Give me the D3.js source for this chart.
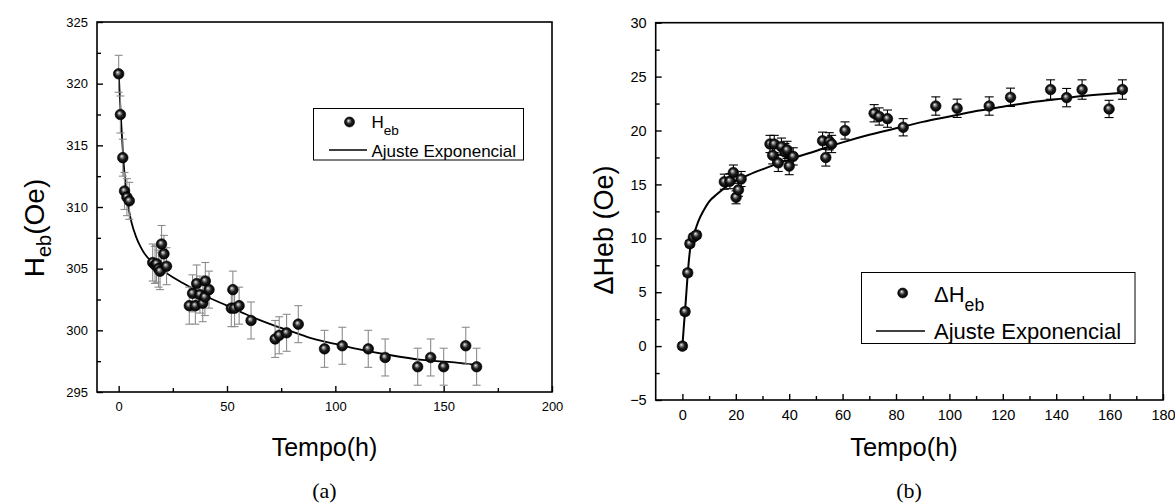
<!DOCTYPE html>
<html><head><meta charset="utf-8">
<script src="https://cdn.jsdelivr.net/npm/d3@7/dist/d3.min.js"></script>
<style>
body{margin:0;background:#fff;}
svg{display:block;font-family:"Liberation Sans",Arial,sans-serif;}
</style></head>
<body><svg id="c" width="1175" height="503"></svg>
<script>
// ---- Panel (a) data ----
const timeA = [0,0.8,1.9,2.7,3.8,4.9, 15.7,16.8,17.5,18.4,19.1,19.8,20.9,22.1, 32.6,34.1,35.4,36,37.5,38.8,39.8,40,41.7, 52,52.7,53.5,55.6, 61.1, 72.2,74.1,77.5, 82.9, 95,103.2,115.2,123, 138,144,150,160.2,165.2];
const hebA  = [320.8,317.5,314.0,311.3,310.8,310.5, 305.5,305.3,305.4,305.0,304.8,307.0,306.2,305.2, 302.0,303.0,302.0,303.8,302.9,302.2,302.7,304.0,303.3, 301.8,303.3,301.8,302.0, 300.8, 299.3,299.6,299.8, 300.5, 298.5,298.75,298.5,297.8, 297.05,297.8,297.05,298.75,297.05];
const errA  = [1.5,1.5,1.5,1.5,1.5,1.5, 1.5,1.5,1.5,1.5,1.5,1.5,1.5,1.5, 1.5,1.5,1.5,1.5,1.5,1.5,1.5,1.5,1.5, 1.5,1.5,1.5,1.5, 1.5, 1.5,1.5,1.5, 1.5, 1.5,1.5,1.5,1.5, 1.5,1.5,1.5,1.5,1.5];
const fitTimeA = [0,0.5,1,1.5,2,3,4,5,6,8,10,12,15,20,25,30,35,40,50,60,70,80,90,100,110,125,140,155,165];
const fitHebA  = [320.9,319.1,317.4,315.8,314.3,312.1,310.6,309.5,308.7,307.6,306.8,306.2,305.6,304.9,304.3,303.8,303.3,302.8,302.0,301.2,300.5,299.9,299.3,298.9,298.5,298.0,297.6,297.4,297.2];
const xTicksA = [0,50,100,150,200];
const yTicksA = [295,300,305,310,315,320,325];

// ---- Panel (b) data ----
const timeB = [0,1,2,2.8,4.1,5.3, 15.7,17.8,19.1,20.1,21,22, 32.8,33.8,34.4,35.9,37.1,38.4,39.2,40,41.5, 52.5,53.7,55,55.9, 60.9, 71.8,73.7,76.8, 82.7, 94.9,102.9,114.9,122.9,137.9,143.9,149.7,159.8,164.8];
const dHebB = [0,3.2,6.8,9.5,10.1,10.3, 15.25,15.3,16.1,13.8,14.5,15.5, 18.75,17.7,18.75,17.0,18.5,18.0,18.2,16.7,17.6, 19.05,17.5,19.0,18.75, 20.0, 21.6,21.3,21.1, 20.3, 22.27,22.06,22.27,23.08,23.8,23.05,23.8,22.0,23.8];
const errB  = [0.3,0.3,0.3,0.3,0.3,0.3, 0.7,0.7,0.7,0.6,0.6,0.7, 0.8,0.8,0.8,0.8,0.8,0.8,0.8,0.8,0.8, 0.8,0.8,0.8,0.8, 0.8, 0.8,0.8,0.8, 0.8, 0.85,0.85,0.85,0.85,0.9,0.85,0.9,0.8,0.9];
const fitTimeB = [0,0.5,1,1.5,2,3,4,5,6,8,10,13,16,20,25,30,40,50,60,70,80,90,100,110,120,130,140,150,165];
const fitDHebB = [0,1.7,3.3,5.0,6.7,9.2,10.2,10.9,11.6,12.6,13.4,14.1,14.7,15.3,15.9,16.4,17.3,18.1,18.9,19.6,20.2,20.8,21.3,21.8,22.2,22.6,22.9,23.2,23.5];
const xTicksB = [0,20,40,60,80,100,120,140,160,180];
const yTicksB = [-5,0,5,10,15,20,25,30];

const svg = d3.select("#c");
const defs = svg.append("defs");
const grad = defs.append("radialGradient").attr("id","ball").attr("cx","0.5").attr("cy","0.5").attr("r","0.5").attr("fx","0.38").attr("fy","0.35");
grad.append("stop").attr("offset","0%").attr("stop-color","#f0f0f0");
grad.append("stop").attr("offset","25%").attr("stop-color","#8a8a8a");
grad.append("stop").attr("offset","55%").attr("stop-color","#202020");
grad.append("stop").attr("offset","100%").attr("stop-color","#000");

function panel(cfg){
  const g = svg.append("g");
  const x = d3.scaleLinear().domain(cfg.xDom).range([cfg.x0,cfg.x1]);
  const y = d3.scaleLinear().domain(cfg.yDom).range([cfg.y1,cfg.y0]);

  const xMinor = cfg.xTicks.slice(0,-1).map((v,i)=>(v+cfg.xTicks[i+1])/2);
  const yMinor = cfg.yTicks.slice(0,-1).map((v,i)=>(v+cfg.yTicks[i+1])/2);

  g.append("g").attr("transform",`translate(0,${cfg.y1})`)
    .call(d3.axisBottom(x).tickValues(cfg.xTicks).tickSize(-6).tickPadding(cfg.xPad).tickFormat(d3.format("d")));
  g.append("g").attr("transform",`translate(0,${cfg.y1})`)
    .call(d3.axisBottom(x).tickValues(xMinor).tickSize(-4).tickFormat(""));
  g.append("g").attr("transform",`translate(${cfg.x0},0)`)
    .call(d3.axisLeft(y).tickValues(cfg.yTicks).tickSize(-6).tickPadding(cfg.yPad).tickFormat(d3.format("d")));
  g.append("g").attr("transform",`translate(${cfg.x0},0)`)
    .call(d3.axisLeft(y).tickValues(yMinor).tickSize(-4).tickFormat(""));
  g.selectAll(".domain").remove();
  g.selectAll(".tick line").attr("stroke","#000").attr("stroke-width",1.4);
  g.selectAll(".tick text").attr("font-size",cfg.tickFont).attr("fill","#000")
    .attr("font-family",'"Liberation Sans",Arial,sans-serif');

  g.append("rect").attr("x",cfg.x0).attr("y",cfg.y0).attr("width",cfg.x1-cfg.x0).attr("height",cfg.y1-cfg.y0)
    .attr("fill","none").attr("stroke","#000").attr("stroke-width",1.6);

  const line = d3.line().x(d=>x(d[0])).y(d=>y(d[1])).curve(d3.curveMonotoneX);
  g.append("path").datum(cfg.fitT.map((t,i)=>[t,cfg.fitV[i]]))
    .attr("d",line).attr("fill","none").attr("stroke","#000").attr("stroke-width",cfg.lineW);

  const pts = cfg.t.map((t,i)=>({t, v:cfg.v[i], e:cfg.e[i]}));
  const eb = g.append("g").attr("stroke",cfg.errColor).attr("stroke-width",1.1);
  pts.forEach(p=>{
    eb.append("line").attr("x1",x(p.t)).attr("x2",x(p.t)).attr("y1",y(p.v-p.e)).attr("y2",y(p.v+p.e));
    eb.append("line").attr("x1",x(p.t)-cfg.cap).attr("x2",x(p.t)+cfg.cap).attr("y1",y(p.v-p.e)).attr("y2",y(p.v-p.e));
    eb.append("line").attr("x1",x(p.t)-cfg.cap).attr("x2",x(p.t)+cfg.cap).attr("y1",y(p.v+p.e)).attr("y2",y(p.v+p.e));
  });
  g.append("g").selectAll("circle").data(pts).join("circle")
    .attr("cx",d=>x(d.t)).attr("cy",d=>y(d.v)).attr("r",cfg.r)
    .attr("fill","url(#ball)").attr("stroke","#000").attr("stroke-width",0.6);
  return {g,x,y};
}

panel({x0:97,x1:552,y0:22,y1:392,xDom:[-10,200],yDom:[295,325],xTicks:xTicksA,yTicks:yTicksA,
  xPad:10,yPad:9,tickFont:13,t:timeA,v:hebA,e:errA,fitT:fitTimeA,fitV:fitHebA,errColor:"#8c8c8c",cap:4,r:5.3,lineW:1.8});
panel({x0:655.7,x1:1163,y0:22.7,y1:400,xDom:[-10,180],yDom:[-5,30],xTicks:xTicksB,yTicks:yTicksB,
  xPad:10,yPad:9,tickFont:14.5,t:timeB,v:dHebB,e:errB,fitT:fitTimeB,fitV:fitDHebB,errColor:"#000",cap:4.5,r:5.3,lineW:2});

svg.append("text").attr("x",324.5).attr("y",456).attr("text-anchor","middle").attr("font-size",25).text("Tempo(h)");
svg.append("text").attr("x",904).attr("y",456).attr("text-anchor","middle").attr("font-size",25.5).text("Tempo(h)");

const yl = svg.append("text").attr("transform","translate(44,228) rotate(-90)").attr("text-anchor","middle").attr("font-size",28);
yl.append("tspan").text("H");
yl.append("tspan").attr("font-size",20).attr("dy",7).text("eb");
yl.append("tspan").attr("dy",-7).text("(Oe)");

svg.append("text").attr("transform","translate(613,230) rotate(-90)").attr("text-anchor","middle").attr("font-size",27).text("\u0394Heb (Oe)");

svg.append("text").attr("x",324.5).attr("y",498).attr("text-anchor","middle").attr("font-size",22)
  .attr("font-family",'"Liberation Serif","Times New Roman",serif').text("(a)");
svg.append("text").attr("x",909).attr("y",498).attr("text-anchor","middle").attr("font-size",22)
  .attr("font-family",'"Liberation Serif","Times New Roman",serif').text("(b)");

function legend(bx,by,bw,bh,mx,my,tx,t1y,t2y,lx1,lx2,ly,fs,prefix){
  const g = svg.append("g");
  g.append("rect").attr("x",bx).attr("y",by).attr("width",bw).attr("height",bh).attr("fill","#fff").attr("stroke","#000").attr("stroke-width",1);
  g.append("circle").attr("cx",mx).attr("cy",my).attr("r",5).attr("fill","url(#ball)").attr("stroke","#000").attr("stroke-width",0.6);
  const t = g.append("text").attr("x",tx).attr("y",t1y).attr("font-size",fs);
  t.append("tspan").text(prefix+"H");
  t.append("tspan").attr("font-size",fs*0.8).attr("dy",fs*0.4).text("eb");
  g.append("line").attr("x1",lx1).attr("x2",lx2).attr("y1",ly).attr("y2",ly).attr("stroke","#000").attr("stroke-width",1.6);
  g.append("text").attr("x",tx).attr("y",t2y).attr("font-size",fs).text("Ajuste Exponencial");
}
legend(313.5,108.5,210,51.5, 349.5,122, 371.5,128,156.5, 329,367,150, 17, "");
legend(861.5,272.5,273.5,71, 902.7,293, 934,302,338.5, 876,925,331, 22, "\u0394");
</script></body></html>
